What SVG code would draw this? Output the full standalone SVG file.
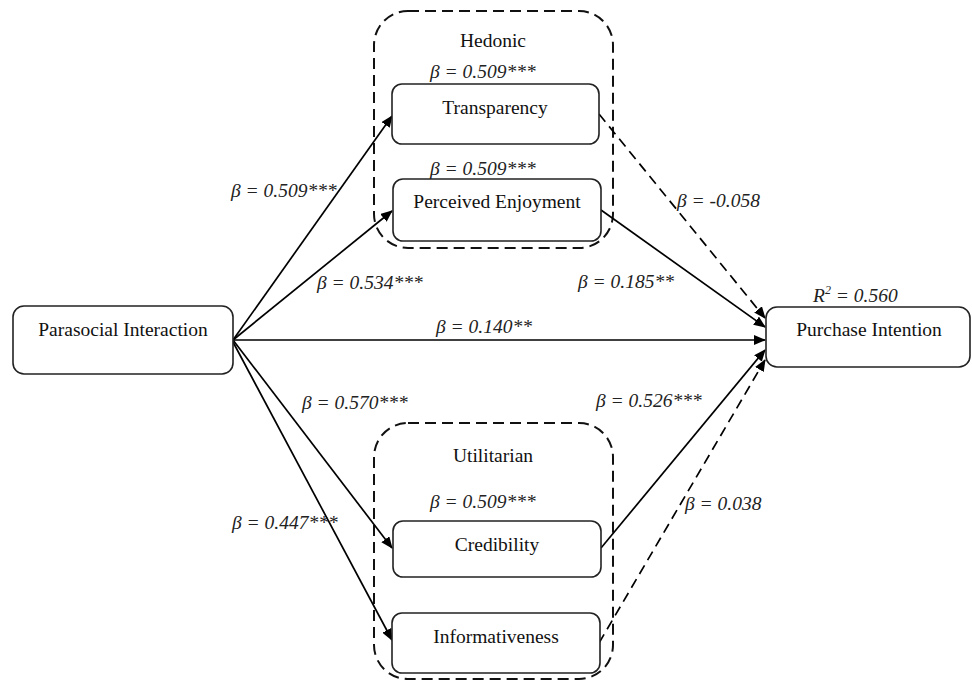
<svg xmlns="http://www.w3.org/2000/svg" width="972" height="688" viewBox="0 0 972 688">
<style>
.node{fill:#fff;stroke:#222;stroke-width:1.6}
.grp{fill:none;stroke:#111;stroke-width:2;stroke-dasharray:11 6}
.t{font-family:"Liberation Serif","Times New Roman",serif;font-size:19.5px;fill:#111;text-anchor:middle}
.b{font-family:"Liberation Serif","Times New Roman",serif;font-size:19.5px;font-style:italic;fill:#222}
.e{stroke:#000;stroke-width:1.7;fill:none;marker-end:url(#ah)}
.d{stroke-dasharray:10 6}
</style>
<defs>
<marker id="ah" viewBox="0 0 12 10" refX="11" refY="5" markerWidth="12" markerHeight="10" markerUnits="userSpaceOnUse" orient="auto">
<path d="M0,0 L12,5 L0,10 Z" fill="#000"/>
</marker>
</defs>
<g id="hedonic-group">
<rect class="grp" x="374" y="11" width="239" height="237" rx="34"/>
<text class="t" x="493" y="47">Hedonic</text>
</g>
<g id="utilitarian-group">
<rect class="grp" x="374" y="423" width="239" height="256" rx="34"/>
<text class="t" x="493" y="462">Utilitarian</text>
</g>
<g id="connectors">
<line class="e" x1="233" y1="340" x2="392" y2="116"/>
<line class="e" x1="233" y1="340" x2="392" y2="211"/>
<line class="e" x1="233" y1="340" x2="765" y2="340"/>
<line class="e" x1="233" y1="340" x2="392" y2="548"/>
<line class="e" x1="233" y1="342" x2="392" y2="640"/>
<line class="e d" x1="599" y1="114" x2="765" y2="318"/>
<line class="e" x1="601" y1="210" x2="765" y2="327"/>
<line class="e" x1="601" y1="548" x2="765" y2="350"/>
<line class="e d" x1="599" y1="643" x2="765" y2="360"/>
</g>
<g id="labels">
<text class="b" x="430" y="78">β = 0.509***</text>
<text class="b" x="430" y="175">β = 0.509***</text>
<text class="b" x="430" y="508">β = 0.509***</text>
<text class="b" x="231" y="197">β = 0.509***</text>
<text class="b" x="317" y="289">β = 0.534***</text>
<text class="b" x="436" y="333">β = 0.140**</text>
<text class="b" x="302" y="409">β = 0.570***</text>
<text class="b" x="232" y="529">β = 0.447***</text>
<text class="b" x="677" y="207">β = -0.058</text>
<text class="b" x="578" y="288">β = 0.185**</text>
<text class="b" x="596" y="407">β = 0.526***</text>
<text class="b" x="685" y="510">β = 0.038</text>
<text class="b" x="813" y="302">R<tspan dy="-8" font-size="12">2</tspan><tspan dy="8"> = 0.560</tspan></text>
</g>
<g id="parasocial">
<rect class="node" x="13" y="306" width="220" height="68" rx="11"/>
<text class="t" x="123" y="336">Parasocial Interaction</text>
</g>
<g id="transparency">
<rect class="node" x="392" y="84" width="207" height="60" rx="10"/>
<text class="t" x="495" y="114">Transparency</text>
</g>
<g id="enjoyment">
<rect class="node" x="393" y="179" width="208" height="62" rx="10"/>
<text class="t" x="497" y="208">Perceived Enjoyment</text>
</g>
<g id="credibility">
<rect class="node" x="393" y="521" width="208" height="56" rx="10"/>
<text class="t" x="497" y="551">Credibility</text>
</g>
<g id="informativeness">
<rect class="node" x="392" y="613" width="208" height="60" rx="10"/>
<text class="t" x="496" y="643">Informativeness</text>
</g>
<g id="purchase">
<rect class="node" x="766" y="307" width="204" height="60" rx="11"/>
<text class="t" x="869" y="336">Purchase Intention</text>
</g>
</svg>
